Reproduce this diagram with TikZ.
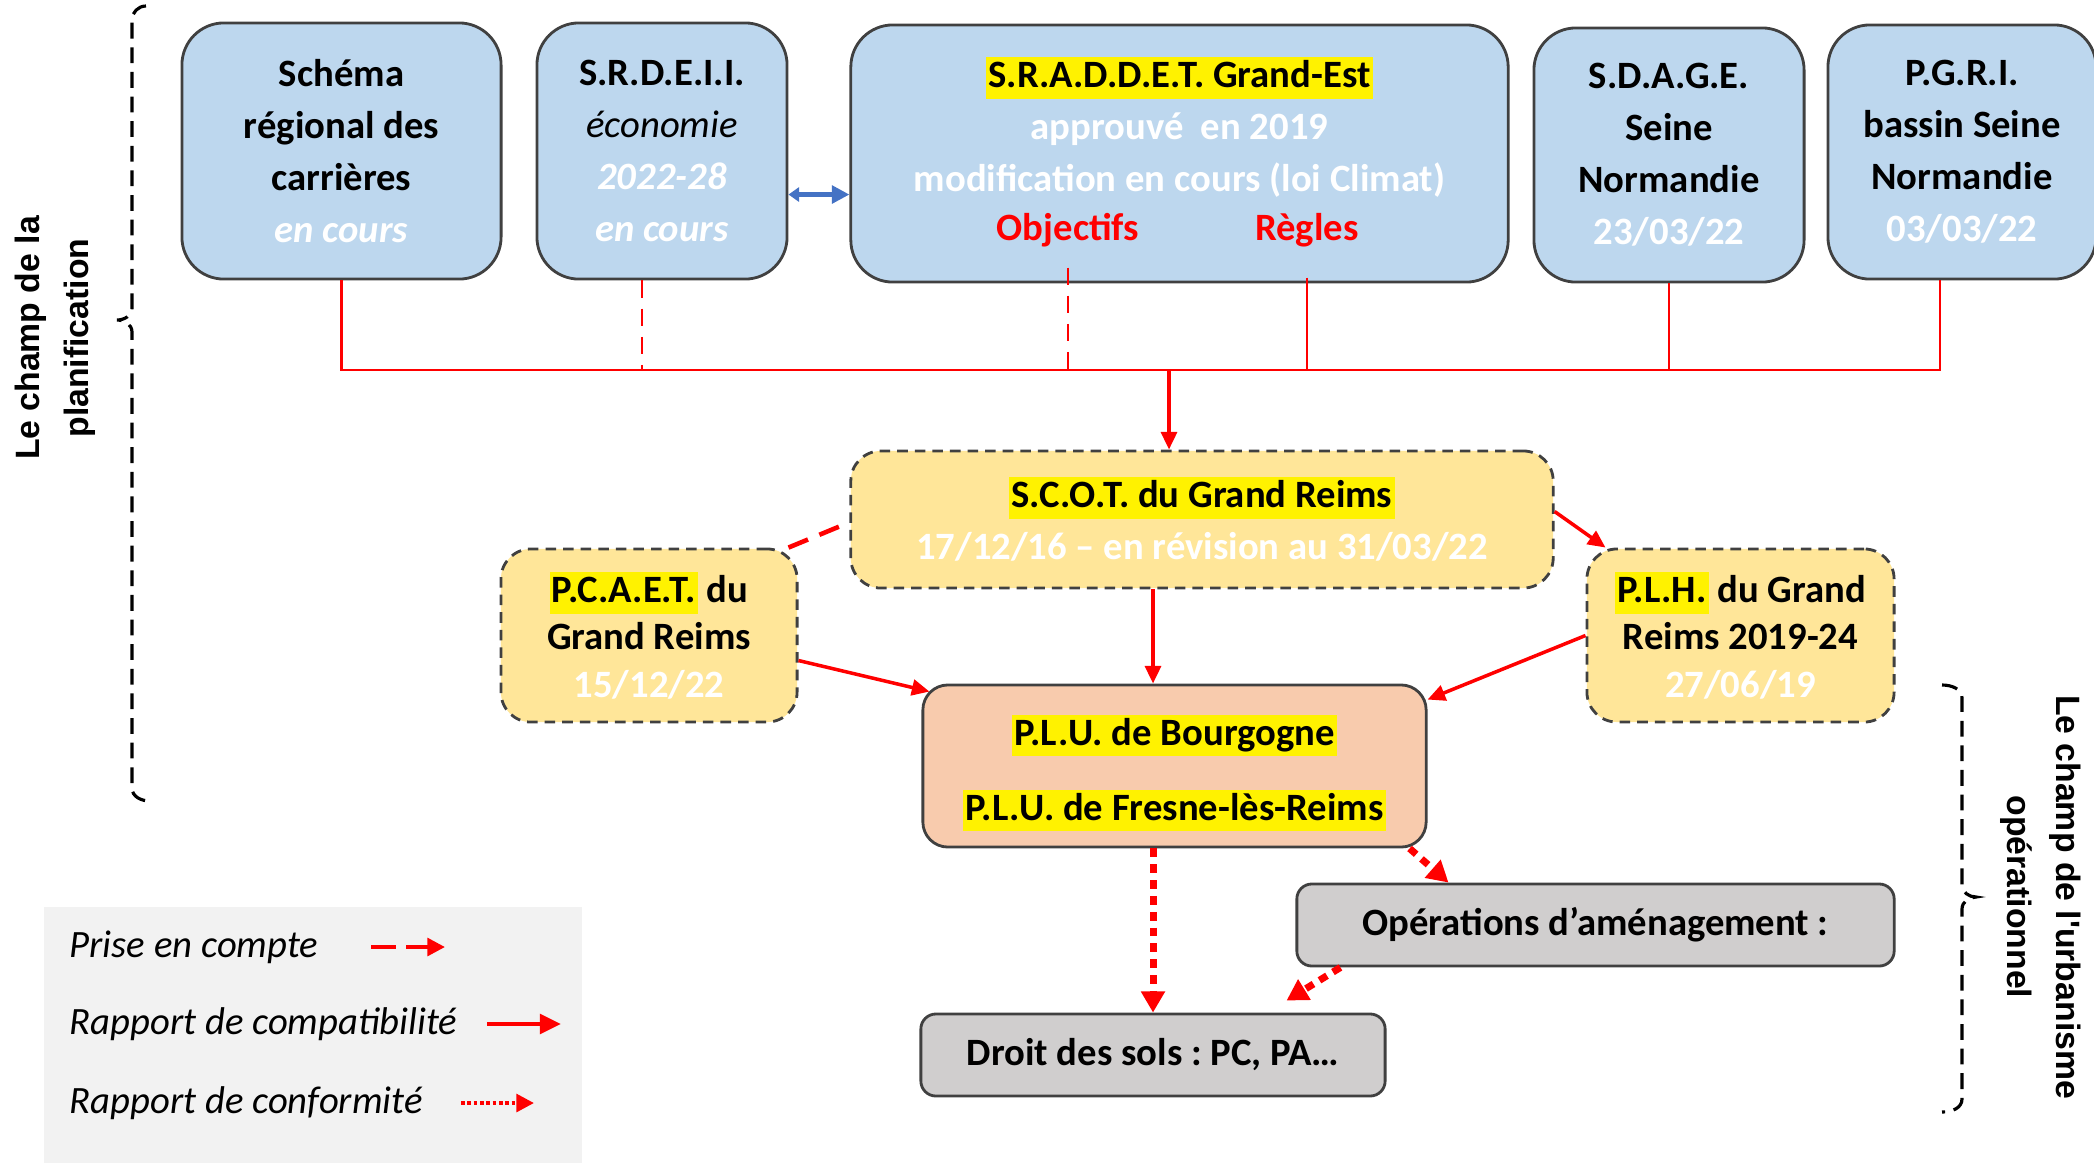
\documentclass[tikz,border=0pt]{standalone}
\usepackage{fontspec}
\setmainfont{Carlito}
\newfontfamily\champfont{Liberation Sans}
\usetikzlibrary{arrows.meta}
\frenchspacing

\definecolor{bleuboite}{RGB}{189,215,238}
\definecolor{jauneboite}{RGB}{255,230,153}
\definecolor{saumon}{RGB}{248,203,173}
\definecolor{grisboite}{RGB}{208,206,206}
\definecolor{grislegende}{RGB}{242,242,242}
\definecolor{trait}{RGB}{64,64,64}
\definecolor{bleufleche}{RGB}{68,114,196}
\definecolor{rouge}{RGB}{255,0,0}

\newcommand{\surligne}[1]{{\setlength{\fboxsep}{0.6pt}\colorbox{yellow}{\rule[-2.6pt]{0pt}{10.6pt}#1}}}
\newcommand{\blanc}[1]{\textcolor{white}{#1}}

\tikzset{
  every node/.style={font=\bfseries\fontsize{11}{14.8}\selectfont, align=center, inner sep=0pt},
  boite/.style={draw=trait, line width=0.8pt},
  regional/.style={boite, fill=bleuboite, rounded corners=0.42cm},
  intercom/.style={boite, dash pattern=on 3pt off 2pt, fill=jauneboite, rounded corners=0.3cm},
  communal/.style={boite, fill=saumon, rounded corners=0.25cm},
  operation/.style={boite, fill=grisboite, rounded corners=0.15cm},
  lien/.style={draw=rouge, line width=0.6pt},
  compat/.style={draw=rouge, line width=1pt, -{Triangle[length=5pt,width=4.5pt]}},
  prise/.style={draw=rouge, line width=1.3pt, dash pattern=on 6pt off 3.5pt},
  conform/.style={draw=rouge, line width=2pt, dash pattern=on 2.5pt off 2pt, -{Triangle[length=6pt,width=6.5pt]}},
  champ/.style={draw=black, line width=0.9pt, dash pattern=on 4.5pt off 2.5pt},
}

\begin{document}
\begin{tikzpicture}[x=0.01cm, y=-0.01cm]
\useasboundingbox (0,0) rectangle (2094,1163);

% documents regionaux et de bassin
\node[regional, minimum width=3.19cm, minimum height=2.56cm] (schema) at (341.5,151)
  {Schéma\\régional des\\carrières\\\blanc{\textit{en cours}}};
\node[regional, minimum width=2.50cm, minimum height=2.56cm] (srdeii) at (662,151)
  {S.R.D.E.I.I.\\{\mdseries\itshape économie}\\\blanc{\textit{2022-28}}\\\blanc{\textit{en cours}}};
\node[regional, minimum width=6.57cm, minimum height=2.57cm] (sraddet) at (1179.5,153.5)
  {\surligne{S.R.A.D.D.E.T. Grand-Est}\\\blanc{approuvé\ \ en 2019}\\\blanc{modification en cours (loi Climat)}\\\phantom{Objectifs}};
\node[text=rouge] (objectifs) at (1068,230) {Objectifs};
\node[text=rouge] (regles) at (1307,230) {Règles};
\node[regional, minimum width=2.70cm, minimum height=2.54cm] (sdage) at (1669,155)
  {S.D.A.G.E.\\Seine\\Normandie\\\blanc{23/03/22}};
\node[regional, minimum width=2.68cm, minimum height=2.54cm] (pgri) at (1962,152)
  {P.G.R.I.\\bassin Seine\\Normandie\\\blanc{03/03/22}};

% documents intercommunaux
\node[intercom, minimum width=7.02cm, minimum height=1.37cm] (scot) at (1202,519.5)
  {\surligne{S.C.O.T. du Grand Reims}\\\blanc{17/12/16 – en révision au 31/03/22}};
\node[intercom, minimum width=2.96cm, minimum height=1.73cm, font=\bfseries\fontsize{11}{13.5}\selectfont] (pcaet) at (649,635.5)
  {\surligne{P.C.A.E.T.} du\\Grand Reims\\\blanc{15/12/22}};
\node[intercom, minimum width=3.07cm, minimum height=1.73cm, font=\bfseries\fontsize{11}{13.5}\selectfont] (plh) at (1740.5,635.5)
  {\surligne{P.L.H.} du Grand\\Reims 2019-24\\\blanc{27/06/19}};

% documents communaux et operationnels
\node[communal, minimum width=5.03cm, minimum height=1.62cm] (plu) at (1174.5,766)
  {\rule{0pt}{12.6pt}\surligne{P.L.U. de Bourgogne}\\[6.5pt]\surligne{P.L.U. de Fresne-lès-Reims}};
\node[operation, minimum width=5.97cm, minimum height=0.82cm] (ops) at (1595.5,925)
  {Opérations d’aménagement\ :};
\node[operation, minimum width=4.64cm, minimum height=0.82cm] (droit) at (1153,1055)
  {Droit des sols : PC, PA…};

% bus vers le SCOT
\coordinate (bus) at (1169,370);
\coordinate (srd) at ([xshift=-0.2cm]srdeii.south);
\coordinate (pgr) at ([xshift=-0.22cm]pgri.south);
\draw[lien] (schema.south) -- (schema.south |- bus) -- (pgr |- bus) -- (pgr);
\draw[lien] (sdage.south) -- (sdage.south |- bus);
\draw[lien, shorten <=0.3cm] (regles.south) -- (regles.south |- bus);
\draw[lien, dash pattern=on 5pt off 3pt] (srd) -- (srd |- bus);
\draw[lien, dash pattern=on 5pt off 3pt, shorten <=0.2cm] (objectifs.south) -- (objectifs.south |- bus);
\draw[compat] (bus) -- (bus |- scot.north);

\coordinate (bl) at ([yshift=-0.435cm]srdeii.east);
\draw[draw=bleufleche, line width=1.2pt, {Triangle[length=3pt,width=4pt]}-{Triangle[length=5pt,width=5pt]}] (bl) -- (bl -| sraddet.west);

% rapports entre documents
\draw[compat] (scot.south -| droit.north) -- (plu.north -| droit.north);
\draw[compat] ([yshift=-0.25cm]pcaet.east) -- ([xshift=0.08cm,yshift=-0.08cm]plu.north west);
\draw[compat] (plh.west) -- ([yshift=-0.16cm]plu.north east);
\draw[compat] ([yshift=0.08cm]scot.east) -- ([xshift=0.2cm]plh.north west);
\draw[prise] ([xshift=-0.1cm]pcaet.north east) -- ([xshift=-0.1cm,yshift=-0.07cm]scot.west);
\draw[conform] (plu.south -| droit.north) -- (droit.north);
\draw[conform] ([xshift=-0.18cm]plu.south east) -- ([xshift=1.53cm]ops.north west);
\draw[conform] ([xshift=0.45cm]ops.south west) -- ([xshift=-1cm,yshift=0.12cm]droit.north east);

% champs
\draw[champ] (146,6) to[out=180,in=90] (132,20) -- (132,308) to[out=-90,in=0] (117,320)
  to[out=0,in=90] (132,332) -- (132,788) to[out=-90,in=180] (150,801);
\node[rotate=90, font=\champfont\bfseries\fontsize{9.6}{14}\selectfont] (planif) at (55,338)
  {Le champ de la\\planification};
\draw[champ] (1942,685) to[out=0,in=90] (1962,698) -- (1962,885) to[out=-90,in=180] (1976,897)
  to[out=180,in=90] (1962,909) -- (1962,1099) to[out=-90,in=0] (1942,1112);
\node[rotate=-90, font=\champfont\bfseries\fontsize{9.6}{14}\selectfont] (urba) at (2041,897)
  {Le champ de l'urbanisme\\opérationnel};

% legende
\node[fill=grislegende, minimum width=5.38cm, minimum height=2.56cm] (legende) at (313,1035) {};
\node[anchor=west, font=\itshape\fontsize{11}{13}\selectfont] (l1) at (69,947) {Prise\ en compte};
\node[anchor=west, font=\itshape\fontsize{11}{13}\selectfont] (l2) at (69,1024) {Rapport de compatibilité};
\node[anchor=west, font=\itshape\fontsize{11}{13}\selectfont] (l3) at (69,1103) {Rapport de conformité};
\coordinate (p1) at (371,947);  \coordinate (p2) at (445,947);
\coordinate (c1) at (487,1024); \coordinate (c2) at (561,1024);
\coordinate (f1) at (461,1103); \coordinate (f2) at (534,1103);
\draw[prise, line width=1.1pt, dash pattern=on 7pt off 3pt, -{Triangle[length=5pt,width=5pt]}] (p1) -- (p2);
\draw[compat, line width=1.3pt, -{Triangle[length=6pt,width=5.5pt]}] (c1) -- (c2);
\draw[conform, line width=1.1pt, dash pattern=on 1pt off 0.8pt, -{Triangle[length=5pt,width=5pt]}] (f1) -- (f2);
\end{tikzpicture}
\end{document}
